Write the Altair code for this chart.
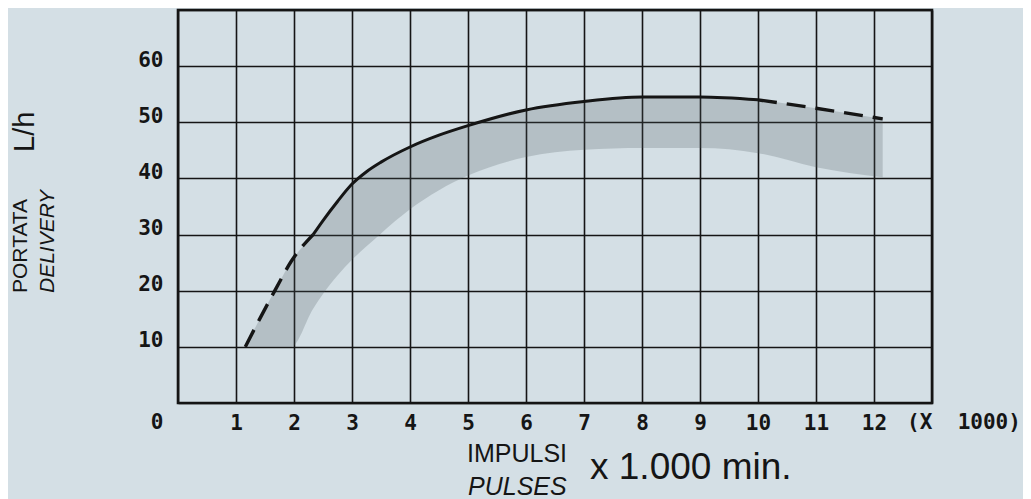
import altair as alt
import pandas as pd

# ---- data ----
x_vals = [1.16, 1.4, 1.7, 1.95, 2.33, 2.5, 2.75, 3.0, 3.25, 3.5, 4.0, 4.5, 5.0, 6.0, 7.0, 8.0, 9.0, 10.0, 11.0, 12.15]
upper_vals = [10, 14.8, 20.6, 25.2, 30, 32.5, 35.9, 39.0, 41.2, 42.9, 45.6, 47.7, 49.4, 52.2, 53.7, 54.5, 54.5, 54.0, 52.5, 50.6]
lower_vals = [10, 10, 10, 10, 16.8, 19.4, 22.7, 25.5, 27.9, 30.2, 34.5, 37.9, 40.5, 43.8, 45.1, 45.4, 45.4, 44.5, 42.0, 40.2]
solid_from, solid_to = 2.33, 10.0

x_tick_values = list(range(0, 14))
y_tick_values = list(range(0, 80, 10))

y_title = ["PORTATA", "DELIVERY", "L/h"]
x_title = ["IMPULSI", "PULSES", "x 1.000 min."]
x_unit = ["(X\u00a0\u00a01000)"]
zero_label = ["0"]

TICK_FONT = "DejaVu Sans Mono"
TITLE_FONT = "Liberation Sans"
INK = "#151515"

band = pd.DataFrame({"x": x_vals, "lo": lower_vals, "hi": upper_vals})
rows = []
for xv, hv in zip(x_vals, upper_vals):
    if xv <= solid_from:
        rows.append({"x": xv, "y": hv, "seg": "a"})
    if solid_from <= xv <= solid_to:
        rows.append({"x": xv, "y": hv, "seg": "s"})
    if xv >= solid_to:
        rows.append({"x": xv, "y": hv, "seg": "b"})
line_df = pd.DataFrame(rows)

xs = alt.Scale(domain=[0, 13], nice=False, zero=False)
ys = alt.Scale(domain=[0, 70], nice=False)

x_axis = alt.Axis(
    values=x_tick_values, grid=True, gridColor=INK, gridWidth=1.6,
    labelExpr="datum.value >= 1 && datum.value <= 12 ? datum.label : ''",
    ticks=False, domain=False, title=None, format="d",
    labelFont=TICK_FONT, labelFontSize=21, labelFontWeight="bold",
    labelColor=INK, labelPadding=9, labelBaseline="top",
)
y_axis = alt.Axis(
    values=y_tick_values, grid=True, gridColor=INK, gridWidth=1.6,
    labelExpr="datum.value >= 10 && datum.value <= 60 ? datum.label : ''",
    ticks=False, domain=False, title=None, format="d",
    labelFont=TICK_FONT, labelFontSize=21, labelFontWeight="bold",
    labelColor=INK, labelPadding=15, labelBaseline="alphabetic", labelAlign="right",
)

area = alt.Chart(band).mark_area(
    interpolate="monotone", fill="#4e5a62", opacity=0.24
).encode(
    x=alt.X("x:Q", scale=xs, axis=x_axis),
    y=alt.Y("lo:Q", scale=ys, axis=y_axis),
    y2="hi:Q",
)

solid = alt.Chart(line_df).transform_filter("datum.seg == 's'").mark_line(
    interpolate="monotone", color=INK, strokeWidth=3
).encode(x=alt.X("x:Q", scale=xs), y=alt.Y("y:Q", scale=ys))

dashed = alt.Chart(line_df).transform_filter("datum.seg != 's'").mark_line(
    interpolate="monotone", color=INK, strokeWidth=3.4, strokeDash=[19, 10]
).encode(x=alt.X("x:Q", scale=xs), y=alt.Y("y:Q", scale=ys), detail="seg:N")


def label(text, x, y, size, font=TITLE_FONT, style="normal", angle=0,
          align="left", baseline="alphabetic", weight="normal"):
    return alt.Chart(pd.DataFrame({"t": [text]})).mark_text(
        font=font, fontSize=size, fontStyle=style, angle=angle, align=align,
        baseline=baseline, color=INK, fontWeight=weight,
    ).encode(text="t:N", x=alt.value(x), y=alt.value(y))


texts = [
    label(y_title[0], -151, 283, 21, angle=270),
    label(y_title[1], -124, 283, 21, style="italic", angle=270),
    label(y_title[2], -144, 142, 29, angle=270),
    label(x_title[0], 289, 452, 25),
    label(x_title[1], 290, 485, 25, style="italic"),
    label(x_title[2], 412, 469, 37),
    label(x_unit[0], 786, 402, 21, font=TICK_FONT, align="center", baseline="top", weight="bold"),
    label(zero_label[0], -21, 402, 21, font=TICK_FONT, align="center", baseline="top", weight="bold"),
]

chart = alt.layer(area, solid, dashed, *texts).properties(
    width=754, height=393,
    padding={"left": 170, "top": 2, "right": 91, "bottom": 96},
    autosize=alt.AutoSizeParams(type="none"),
).configure(background="#d4dfe5").configure_view(stroke=INK, strokeWidth=2.6)

chart.save("out.html", embed_options={"renderer": "svg", "actions": False})
